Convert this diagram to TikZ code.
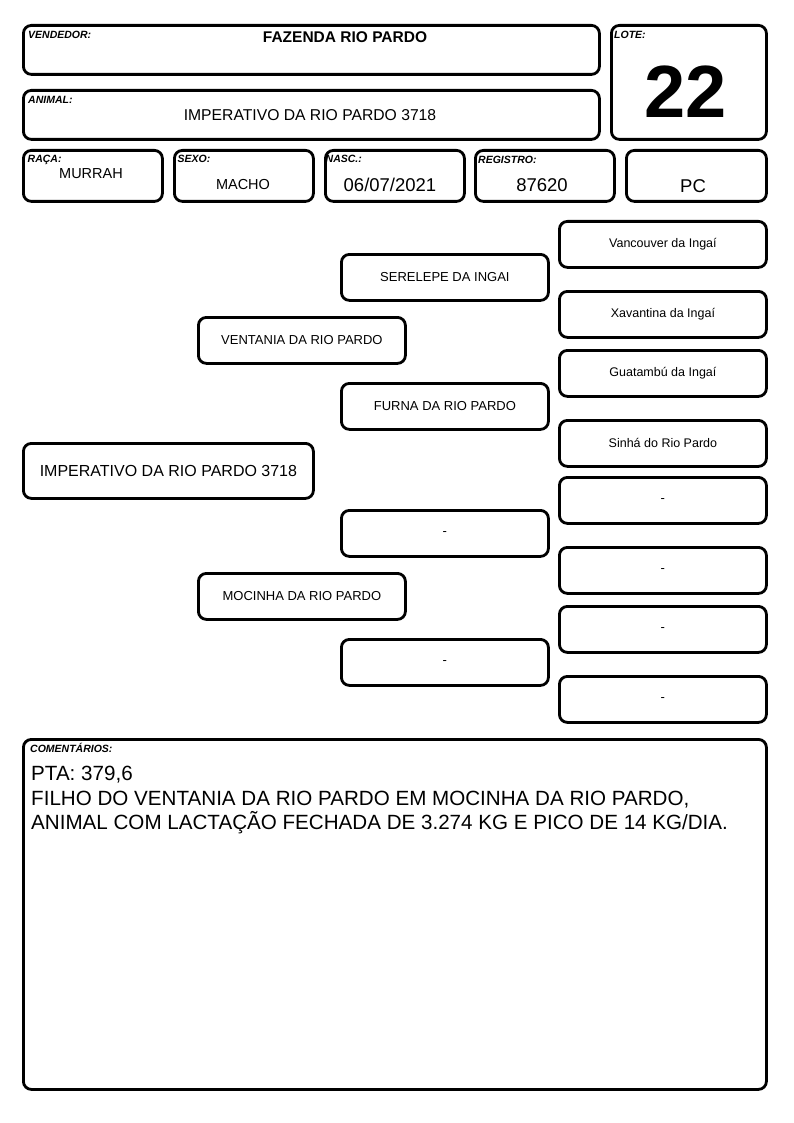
\documentclass[tikz,border=0pt]{standalone}
\usepackage{fontspec}
\setmainfont{Liberation Sans}
\begin{document}
\begin{tikzpicture}[x=1pt,y=-1pt,
  box/.style={draw, line width=2.8pt, rounded corners=8pt, inner sep=0pt, anchor=north west},
  ped/.style={box, minimum width=207pt, minimum height=46pt, font=\fontsize{13}{15}\selectfont},
  pedm/.style={box, minimum width=207pt, minimum height=46pt, font=\fontsize{12.5}{15}\selectfont},
  lab/.style={anchor=base west, inner sep=0pt, font=\fontsize{10.5}{12}\selectfont\bfseries\itshape},
  val/.style={anchor=base, inner sep=0pt}]
\useasboundingbox (0,0) rectangle (794,1123);
% header boxes
\node[box, minimum width=576pt, minimum height=49pt] (vend) at (22,24) {};
\node[box, minimum width=155pt, minimum height=114pt] (lote) at (610,24) {};
\node[box, minimum width=576pt, minimum height=49pt] (animal) at (22,89) {};
\node[box, minimum width=139pt, minimum height=51pt] (raca) at (22,149) {};
\node[box, minimum width=139pt, minimum height=51pt] (sexo) at (173,149) {};
\node[box, minimum width=139pt, minimum height=51pt] (nasc) at (324,149) {};
\node[box, minimum width=139pt, minimum height=51pt] (reg) at (474,149) {};
\node[box, minimum width=140pt, minimum height=51pt] (pc) at (625,149) {};
% labels
\node[lab] (lvend) at (28,38.7) {VENDEDOR:};
\node[lab] (llote) at (614,38.7) {LOTE:};
\node[lab] (lanimal) at (28,104) {ANIMAL:};
\node[lab] (lraca) at (27.5,162.7) {RAÇA:};
\node[lab] (lsexo) at (177.5,162.7) {SEXO:};
\node[lab] (lnasc) at (325.5,162.7) {NASC.:};
\node[lab] (lreg) at (478,164) {REGISTRO:};
% values
\node[val, font=\fontsize{15.5}{18}\selectfont\bfseries] (tvend) at (345,43) {FAZENDA RIO PARDO};
\node[val, font=\fontsize{74}{80}\selectfont\bfseries] (tlote) at (686,118) {22};
\node[val, font=\fontsize{15.7}{18}\selectfont] (tanimal) at (310,120.7) {IMPERATIVO DA RIO PARDO 3718};
\node[val, font=\fontsize{14.5}{17}\selectfont] (traca) at (91,178.3) {MURRAH};
\node[val, font=\fontsize{14.5}{17}\selectfont] (tsexo) at (243,189.3) {MACHO};
\node[val, font=\fontsize{18.5}{21}\selectfont] (tnasc) at (390,191.7) {06/07/2021};
\node[val, font=\fontsize{18.5}{21}\selectfont] (treg) at (542,191.7) {87620};
\node[val, font=\fontsize{18.5}{21}\selectfont] (tpc) at (693,192.3) {PC};
% pedigree: right column
\node[pedm] (g1) at (558,220) {Vancouver da Ingaí};
\node[pedm] (g2) at (558,290) {Xavantina da Ingaí};
\node[pedm] (g3) at (558,349) {Guatambú da Ingaí};
\node[pedm] (g4) at (558,419) {Sinhá do Rio Pardo};
\node[ped] (g5) at (558,476) {-};
\node[ped] (g6) at (558,546) {-};
\node[ped] (g7) at (558,605) {-};
\node[ped] (g8) at (558,675) {-};
% middle column
\node[ped] (p1) at (340,253) {SERELEPE DA INGAI};
\node[ped] (p2) at (340,382) {FURNA DA RIO PARDO};
\node[ped] (p3) at (340,509) {-};
\node[ped] (p4) at (340,638) {-};
% parents
\node[ped] (sire) at (197,316) {VENTANIA DA RIO PARDO};
\node[ped] (dam) at (197,572) {MOCINHA DA RIO PARDO};
% animal
\node[box, minimum width=290pt, minimum height=55pt, font=\fontsize{16}{19}\selectfont] (self) at (22,442) {IMPERATIVO DA RIO PARDO 3718};
% comments
\node[box, minimum width=743pt, minimum height=350pt] (com) at (22,738) {};
\node[lab] (lcom) at (30,752.7) {COMENTÁRIOS:};
\node[anchor=base west, inner sep=0pt, align=left, font=\fontsize{20.6}{24.3}\selectfont] (tcom) at (31,829.3) {PTA: 379,6\\FILHO DO VENTANIA DA RIO PARDO EM MOCINHA DA RIO PARDO,\\ANIMAL COM LACTAÇÃO FECHADA DE 3.274 KG E PICO DE 14 KG/DIA.};
\end{tikzpicture}
\end{document}
